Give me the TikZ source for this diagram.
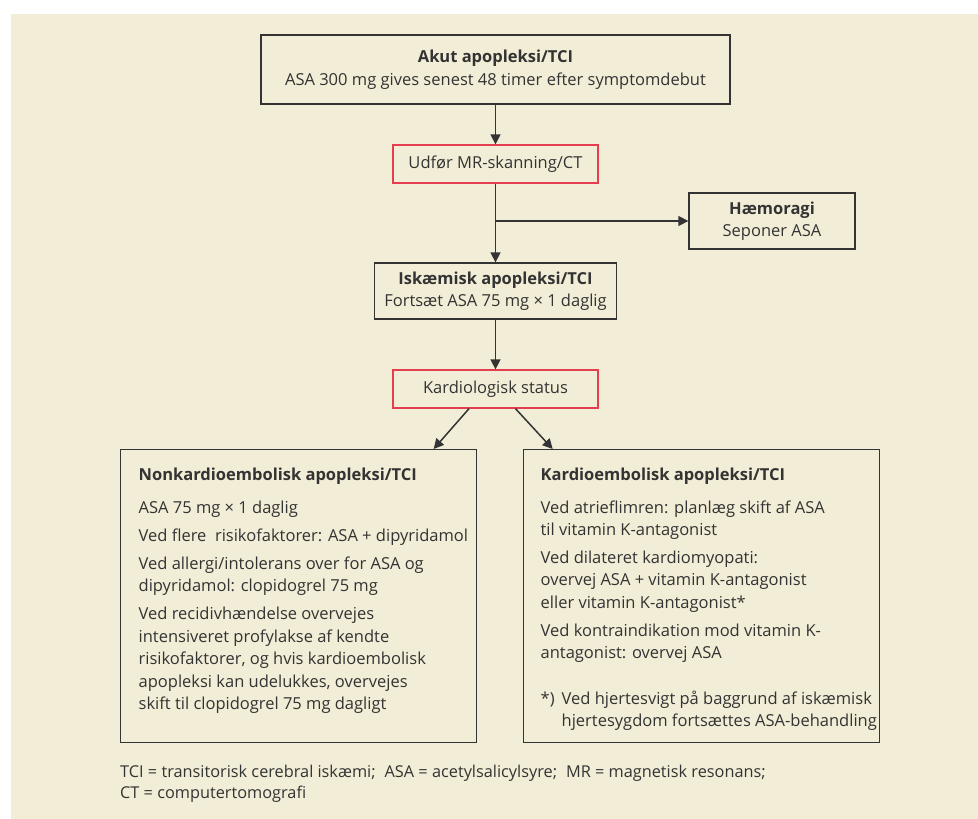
\documentclass[tikz,border=0pt]{standalone}
\usepackage{fontspec}
\setmainfont{Open Sans}
\usepackage{xcolor}
\usepackage{tikz}
\usetikzlibrary{arrows.meta, positioning}

\definecolor{bgbeige}{HTML}{F2EDD6}
\definecolor{boxred}{HTML}{E53E4E}
\definecolor{ink}{HTML}{333333}

\begin{document}
\begin{tikzpicture}[
  x=1pt, y=-1pt,
  box/.style={draw=ink, line width=1.3pt, align=center, inner sep=0pt, text=ink,
              font=\fontsize{16.5}{22.5}\selectfont},
  redbox/.style={box, draw=boxred},
  bigbox/.style={draw=ink, line width=1.3pt, anchor=north west, text=ink,
                 inner xsep=0pt, inner ysep=18pt, font=\fontsize{16.5}{22.5}\selectfont},
  arr/.style={-{Triangle[length=10pt, width=10pt]}, line width=1.5pt, draw=ink}
]
  \useasboundingbox (0,0) rectangle (978,819);
  \fill[bgbeige] (11,14) rectangle (978,819);

  \node[box, minimum width=469pt, minimum height=69pt] (akut) at (495.5,69.5)
    {\textbf{Akut apopleksi/TCI}\\ASA 300 mg gives senest 48 timer efter symptomdebut};
  \node[redbox, minimum width=205pt, minimum height=38pt] (mr) at (495.5,164)
    {Udfør MR-skanning/CT};
  \node[box, minimum width=166pt, minimum height=56pt] (haem) at (772,221)
    {\textbf{Hæmoragi}\\Seponer ASA};
  \node[box, minimum width=242pt, minimum height=56pt] (isk) at (495.5,291)
    {\textbf{Iskæmisk apopleksi/TCI}\\Fortsæt ASA 75 mg × 1 daglig};
  \node[redbox, minimum width=205pt, minimum height=38pt] (kard) at (495.5,389)
    {Kardiologisk status};

  \node[bigbox] (non) at (120,449) {\begin{minipage}[t][257pt][t]{356pt}
    \raggedright\leftskip=18pt
    \textbf{Nonkardioembolisk apopleksi/TCI}\\[10.5pt]
    ASA 75 mg × 1 daglig\\[5.5pt]
    Ved flere~ risikofaktorer: ASA + dipyridamol\\[5.5pt]
    Ved allergi/intolerans over for ASA og\\
    dipyridamol: clopidogrel 75 mg\\[5.5pt]
    Ved recidivhændelse overvejes\\
    intensiveret profylakse af kendte\\
    risikofaktorer, og hvis kardioembolisk\\
    apopleksi kan udelukkes, overvejes\\
    skift til clopidogrel 75 mg dagligt
  \end{minipage}};
  \node[bigbox] (kardio) at (523,449) {\begin{minipage}[t][257pt][t]{356pt}
    \raggedright\leftskip=17pt
    \textbf{Kardioembolisk apopleksi/TCI}\\[10.5pt]
    Ved atrieflimren: planlæg skift af ASA\\
    til vitamin K-antagonist\\[5pt]
    Ved dilateret kardiomyopati:\\
    overvej ASA + vitamin K-antagonist\\
    eller vitamin K-antagonist*\\[5.5pt]
    Ved kontraindikation mod vitamin K-\\
    antagonist: overvej ASA\\[23pt]
    \mbox{\makebox[21pt][l]{*)}Ved hjertesvigt på baggrund af iskæmisk}\\
    \mbox{\hspace*{21pt}hjertesygdom fortsættes ASA-behandling}
  \end{minipage}};

  \node[font=\fontsize{16.3}{21}\selectfont, text=ink, anchor=north west, align=left,
        inner sep=0pt] (forkort) at (120,765)
    {TCI = transitorisk cerebral iskæmi;\hspace{9pt}ASA = acetylsalicylsyre;\hspace{9pt}MR = magnetisk resonans;\\
     CT = computertomografi};

  \draw[arr] (akut) -- (mr);
  \draw[arr] (mr) -- (isk);
  \draw[arr] (mr.south |- haem.west) -- (haem.west);
  \draw[arr] (isk) -- (kard);
  \draw[arr] ([xshift=-26.5pt]kard.south) -- ([xshift=135pt]non.north);
  \draw[arr] ([xshift=20pt]kard.south) -- ([xshift=-149pt]kardio.north);
\end{tikzpicture}
\end{document}
